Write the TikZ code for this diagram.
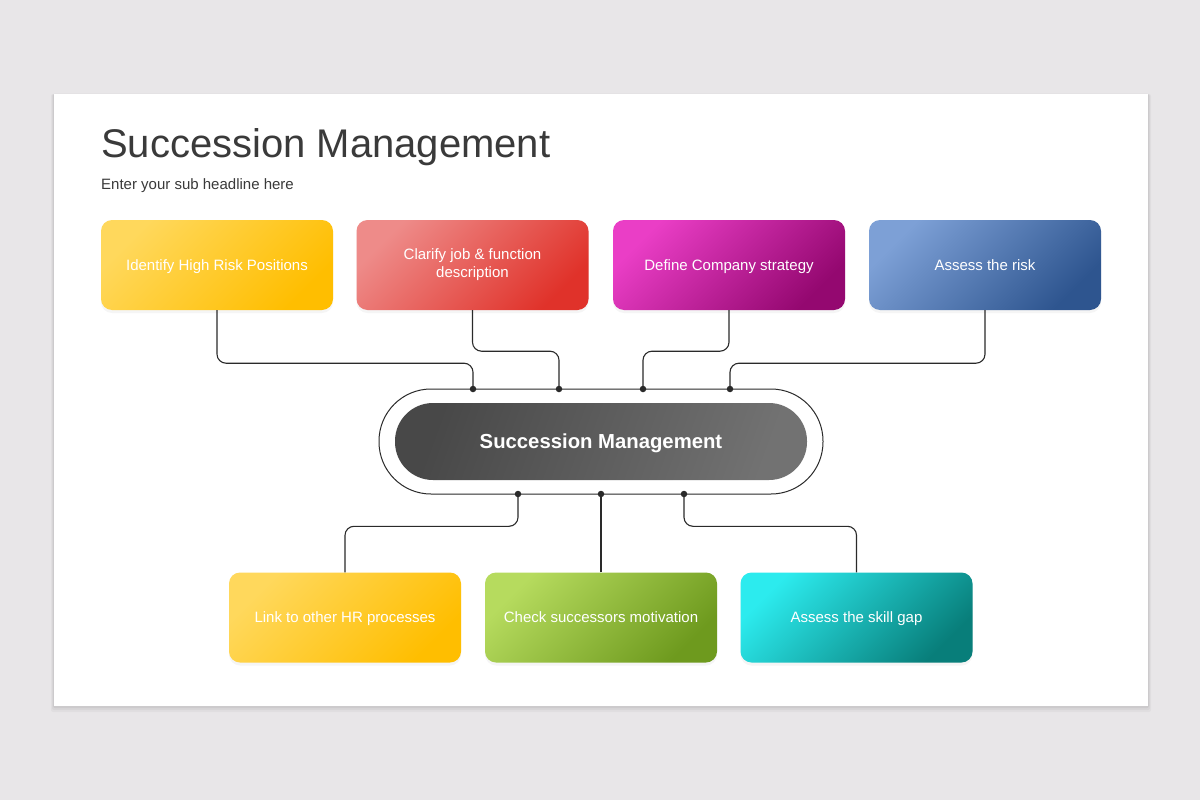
\documentclass[tikz,border=0pt]{standalone}
\usepackage{fontspec}
\setmainfont{Liberation Sans}
\usepackage{tikz}
\usetikzlibrary{calc, positioning, shadows}

\definecolor{pagebg}{HTML}{E8E6E8}
\definecolor{titlegray}{HTML}{3A3A3A}
\definecolor{linegray}{HTML}{2A2A2A}

\begin{document}
\begin{tikzpicture}[x=1pt, y=-1pt,
  box/.style={rounded corners=11pt, minimum width=232pt, minimum height=90pt,
    inner sep=0pt, align=center, text=white, font=\fontsize{15}{18}\selectfont,
    text depth=0pt,
    drop shadow={opacity=0.08, shadow xshift=0pt, shadow yshift=-3pt}},
  link/.style={draw=linegray, line width=1.1pt, rounded corners=9pt},
  dot/.style={circle, fill=linegray, inner sep=0pt, minimum size=6.5pt}]

  \useasboundingbox (0,0) rectangle (1200,800);
  \fill[pagebg] (0,0) rectangle (1200,800);

  % slide
  \foreach \s/\o in {6/0.03,4/0.04,2/0.05}
    \fill[black, opacity=\o, rounded corners=2pt] (54-\s/2,94) rectangle (1148+\s/2,706+\s);
  \fill[white] (54,94) rectangle (1148,706);

  \node[anchor=base west, inner sep=0pt, text=titlegray, font=\fontsize{40}{46}\selectfont] (title) at (101,157) {Succession Management};
  \node[anchor=base west, inner sep=0pt, text=titlegray, font=\fontsize{15}{18}\selectfont] (subtitle) at (101,189) {Enter your sub headline here};

  % top row
  \node[box, left color={rgb,255:red,255;green,216;blue,92}, right color={rgb,255:red,255;green,190;blue,0}, shading angle=45] (risk) at (217,265) {Identify High Risk Positions};
  \node[box, text depth=, left color={rgb,255:red,238;green,139;blue,137}, right color={rgb,255:red,224;green,50;blue,42}, shading angle=45] (job) at (472.5,265) {Clarify job \& function\\description};
  \node[box, left color={rgb,255:red,234;green,62;blue,198}, right color={rgb,255:red,148;green,8;blue,112}, shading angle=45] (strategy) at (729,265) {Define Company strategy};
  \node[box, left color={rgb,255:red,125;green,160;blue,214}, right color={rgb,255:red,46;green,85;blue,143}, shading angle=45] (assess) at (985,265) {Assess the risk};

  % center
  \node[draw=linegray, line width=1pt, fill=white, rounded corners=52pt, minimum width=444pt, minimum height=105pt, inner sep=0pt] (ring) at (601,441.5) {};
  \node[rounded corners=38pt, minimum width=412pt, minimum height=77pt, inner sep=0pt, text depth=0pt,
    left color={rgb,255:red,72;green,72;blue,72}, right color={rgb,255:red,114;green,114;blue,114}, shading angle=70,
    text=white, font=\bfseries\fontsize{20.3}{24}\selectfont] (core) at (601,441.5) {Succession Management};

  % bottom row
  \node[box, left color={rgb,255:red,255;green,216;blue,92}, right color={rgb,255:red,255;green,190;blue,0}, shading angle=45] (link) at (345,617.5) {Link to other HR processes};
  \node[box, left color={rgb,255:red,182;green,219;blue,94}, right color={rgb,255:red,110;green,154;blue,30}, shading angle=45] (motiv) at (601,617.5) {Check successors motivation};
  \node[box, left color={rgb,255:red,44;green,235;blue,238}, right color={rgb,255:red,8;green,126;blue,122}, shading angle=45] (gap) at (856.5,617.5) {Assess the skill gap};

  % junctions on the ring
  \coordinate (j1) at (473,389);
  \coordinate (j2) at (559,389);
  \coordinate (j3) at (643,389);
  \coordinate (j4) at (730,389);
  \coordinate (j5) at (518,494);
  \coordinate (j6) at (601,494);
  \coordinate (j7) at (684,494);

  \draw[link] (risk.south) -- ++(0,53) -| (j1);
  \draw[link] (job.south) -- ++(0,41) -| (j2);
  \draw[link] (strategy.south) -- ++(0,41) -| (j3);
  \draw[link] (assess.south) -- ++(0,53) -| (j4);
  \draw[link] (link.north) -- ++(0,-46) -| (j5);
  \draw[link] (motiv.north) -- (j6);
  \draw[link] (gap.north) -- ++(0,-46) -| (j7);

  \foreach \j in {j1,j2,j3,j4,j5,j6,j7}
    \node[dot] at (\j) {};
\end{tikzpicture}
\end{document}
